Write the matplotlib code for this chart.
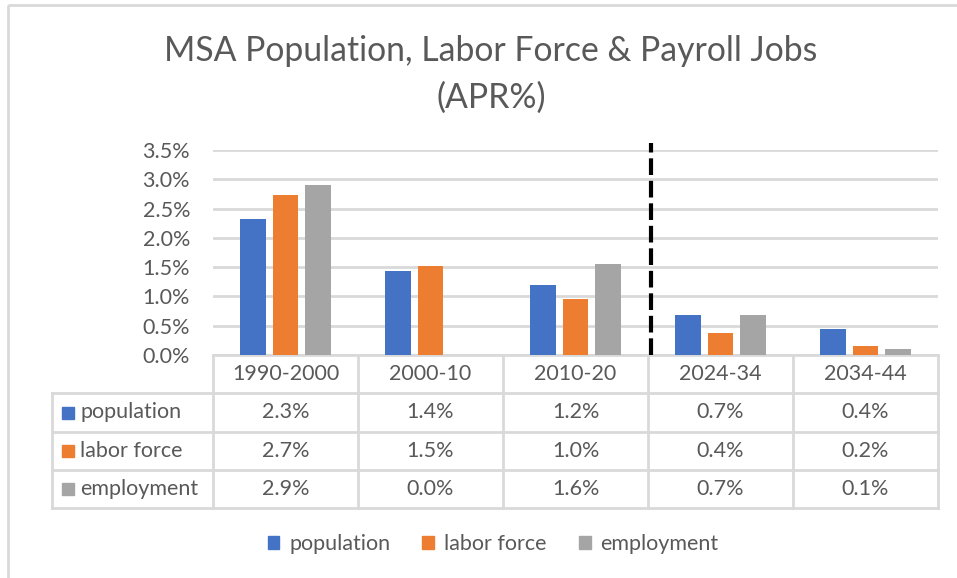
import numpy as np
import matplotlib.pyplot as plt
from matplotlib.patches import Patch, Rectangle
from matplotlib.transforms import blended_transform_factory

plt.rcParams['font.family'] = ['Lato', 'DejaVu Sans']

# data (APR %)
periods = ['1990-2000', '2000-10', '2010-20', '2024-34', '2034-44']
population = [2.33, 1.43, 1.19, 0.69, 0.44]
labor_force = [2.74, 1.52, 0.96, 0.38, 0.16]
employment = [2.91, 0.0, 1.56, 0.69, 0.11]
series_names = ['population', 'labor force', 'employment']
colors = ['#4472C4', '#ED7D31', '#A5A5A5']
yticks = [0.0, 0.5, 1.0, 1.5, 2.0, 2.5, 3.0, 3.5]

txt = '#595959'
grid = '#D9D9D9'
fs = 15.5
W, H = 957, 578

fig = plt.figure(figsize=(W / 100, H / 100), dpi=100)

# full-figure axes in pixel units for the frame and table
bg = fig.add_axes([0, 0, 1, 1])
bg.set_xlim(0, W)
bg.set_ylim(H, 0)
bg.axis('off')
bg.add_patch(Rectangle((8, 5), W + 20, H + 20, fill=False, ec=grid, lw=2))

bg.text(491, 51, 'MSA Population, Labor Force & Payroll Jobs', ha='center', va='center',
        fontsize=24.3, color=txt)
bg.text(491, 98, '(APR%)', ha='center', va='center', fontsize=24.3, color=txt)

# bar chart
ax = fig.add_axes([213 / W, 1 - 355 / H, 725 / W, 205 / H])
x = np.arange(len(periods))
width, step = 0.175, 0.224
all_series = [population, labor_force, employment]
for i, (vals, c) in enumerate(zip(all_series, colors)):
    ax.bar(x + (i - 1) * step, vals, width, color=c, zorder=3)

ax.set_xlim(-0.5, len(periods) - 0.5)
ax.set_ylim(0, 3.5)
ax.set_yticks(yticks)
ax.set_yticklabels([f'{v:.1f}%' for v in yticks])
ax.set_xticks([])
ax.yaxis.grid(True, color=grid, lw=2)
ax.set_axisbelow(True)
for s in ax.spines.values():
    s.set_visible(False)
ax.tick_params(axis='y', length=0, pad=16.5, colors=txt, labelsize=fs)

# dashed separator between history and forecast
ax.plot([2.52, 2.52], [0, 3.62], color='black', lw=3, ls=(0, (4, 1.4)),
        clip_on=False, zorder=4)

# data table under the chart
tr = blended_transform_factory(ax.transData, bg.transData)
rows_y = [355, 393, 432, 470, 508]
left_px = 52
for yy in rows_y[1:]:
    bg.plot([left_px, 213], [yy, yy], color=grid, lw=2)
for yy in rows_y:
    ax.plot([-0.5, len(periods) - 0.5], [yy, yy], color=grid, lw=2, transform=tr, clip_on=False)
for xe in np.arange(len(periods) + 1) - 0.5:
    ax.plot([xe, xe], [rows_y[0], rows_y[-1]], color=grid, lw=2, transform=tr, clip_on=False)
bg.plot([left_px, left_px], [rows_y[1], rows_y[-1]], color=grid, lw=2)

for j, p in enumerate(periods):
    ax.text(j, (rows_y[0] + rows_y[1]) / 2, p, ha='center', va='center', fontsize=fs,
            color=txt, transform=tr)
for i, (name, vals, c) in enumerate(zip(series_names, all_series, colors)):
    yc = (rows_y[i + 1] + rows_y[i + 2]) / 2
    bg.add_patch(Rectangle((62, yc - 6), 12, 12, color=c))
    bg.text(80, yc, name, ha='left', va='center', fontsize=fs, color=txt)
    for j, v in enumerate(vals):
        ax.text(j, yc, f'{v:.1f}%', ha='center', va='center', fontsize=fs,
                color=txt, transform=tr)

handles = [Patch(color=c, label=n) for n, c in zip(series_names, colors)]
fig.legend(handles=handles, loc='center', bbox_to_anchor=(493 / W, 1 - 544 / H), ncol=3,
           frameon=False, fontsize=fs, labelcolor=txt, handlelength=0.55, handleheight=0.55,
           handletextpad=0.45, columnspacing=1.5)

fig.savefig('out.png', dpi=100)
